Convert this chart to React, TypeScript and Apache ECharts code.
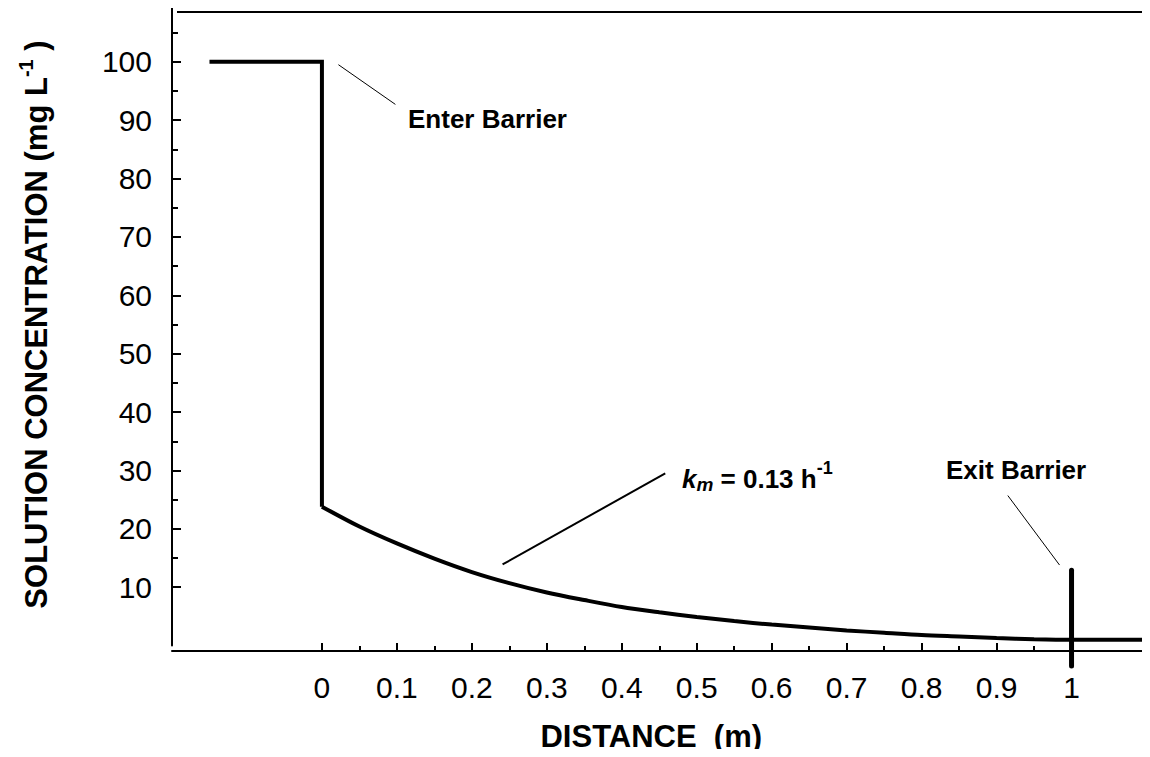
import { useEffect, useRef } from "react";
import * as echarts from "echarts";

const FONT = '"Liberation Sans", Arial, Helvetica, sans-serif';

// Solution concentration (mg/L) versus distance (m)
const plateauDistance = [-0.15, 0, 0];
const plateauConcentration = [100, 100, 23.8];

const curveDistance = [
  0, 0.05, 0.1, 0.15, 0.2, 0.25, 0.3, 0.35, 0.4, 0.45, 0.5, 0.55, 0.6, 0.65, 0.7,
  0.75, 0.8, 0.85, 0.9, 0.95, 1.0, 1.1,
];
const curveConcentration = [
  23.8, 20.4, 17.5, 14.9, 12.6, 10.7, 9.1, 7.8, 6.6, 5.7, 4.9, 4.2, 3.6, 3.1, 2.6,
  2.2, 1.8, 1.55, 1.3, 1.1, 1.0, 1.0,
];

const exitBarrierDistance = [1, 1];
const exitBarrierConcentration = [12.9, -3.5];

// Annotation leader lines (data units)
const enterLeaderDistance = [0.022, 0.098];
const enterLeaderConcentration = [99.5, 92.7];
const kmLeaderDistance = [0.241, 0.458];
const kmLeaderConcentration = [13.9, 29.5];
const exitLeaderDistance = [0.915, 0.984];
const exitLeaderConcentration = [25.7, 13.8];

// Axis ticks
const xMajorTicks = [0, 0.1, 0.2, 0.3, 0.4, 0.5, 0.6, 0.7, 0.8, 0.9, 1];
const xMinorTicks = [0.05, 0.15, 0.25, 0.35, 0.45, 0.55, 0.65, 0.75, 0.85, 0.95];
const yMajorTicks = [10, 20, 30, 40, 50, 60, 70, 80, 90, 100];
const yMinorTicks = [15, 25, 35, 45, 55, 65, 75, 85, 95, 105];

const zip = (xs: number[], ys: number[]) => xs.map((x, i) => [x, ys[i]]);

export default function App() {
  const ref = useRef<HTMLDivElement>(null);

  useEffect(() => {
    if (!ref.current) return;
    const chart = echarts.init(ref.current, undefined, { renderer: "svg" });

    const axisLineStyle = { color: "#000", width: 2 };
    const xBase = {
      type: "value" as const,
      min: -0.2,
      max: 1.1,
      position: "bottom" as const,
      offset: 5.4,
      splitLine: { show: false },
    };
    const yBase = {
      type: "value" as const,
      min: 0,
      max: 110,
      position: "left" as const,
      splitLine: { show: false },
    };

    const thin = (width: number) => ({
      type: "line" as const,
      showSymbol: false,
      symbol: "none",
      silent: true,
      clip: false,
      lineStyle: { color: "#000", width },
    });

    chart.setOption({
      animation: false,
      backgroundColor: "#fff",
      grid: { left: 172, right: 3.5, top: 3.4, bottom: 109.4 },
      xAxis: [
        {
          ...xBase,
          name: "DISTANCE  (m)",
          nameLocation: "middle",
          nameGap: 70,
          nameTextStyle: {
            fontFamily: FONT,
            fontSize: 31,
            fontWeight: "bold",
            color: "#000",
            padding: [0, 16, 0, 0],
          },
          axisLine: { show: true, onZero: false, lineStyle: axisLineStyle },
          axisTick: {
            show: true,
            inside: true,
            length: 8,
            customValues: xMajorTicks,
            lineStyle: axisLineStyle,
          },
          axisLabel: {
            show: true,
            customValues: xMajorTicks,
            margin: 21,
            fontFamily: FONT,
            fontSize: 30,
            color: "#000",
          },
        },
        {
          ...xBase,
          axisLine: { show: false, onZero: false },
          axisTick: {
            show: true,
            inside: true,
            length: 5,
            customValues: xMinorTicks,
            lineStyle: axisLineStyle,
          },
          axisLabel: { show: false },
        },
      ],
      yAxis: [
        {
          ...yBase,
          name: "SOLUTION CONCENTRATION (mg L{sup|-1} )",
          nameLocation: "middle",
          nameGap: 116,
          nameTextStyle: {
            fontFamily: FONT,
            fontSize: 31,
            fontWeight: "bold",
            color: "#000",
            lineHeight: 40,
            rich: {
              sup: {
                fontFamily: FONT,
                fontSize: 20,
                fontWeight: "bold",
                color: "#000",
                lineHeight: 20,
                verticalAlign: "top",
              },
            },
          },
          axisLine: { show: true, onZero: false, lineStyle: axisLineStyle },
          axisTick: {
            show: true,
            inside: true,
            length: 9,
            customValues: yMajorTicks,
            lineStyle: axisLineStyle,
          },
          axisLabel: {
            show: true,
            customValues: yMajorTicks,
            margin: 20,
            fontFamily: FONT,
            fontSize: 30,
            color: "#000",
          },
        },
        {
          ...yBase,
          axisLine: { show: false, onZero: false },
          axisTick: {
            show: true,
            inside: true,
            length: 6,
            customValues: yMinorTicks,
            lineStyle: axisLineStyle,
          },
          axisLabel: { show: false },
        },
      ],
      series: [
        {
          ...thin(4),
          name: "plateau",
          data: zip(plateauDistance, plateauConcentration),
          lineStyle: { color: "#000", width: 4, join: "miter", cap: "butt" },
        },
        {
          ...thin(4),
          name: "concentration",
          smooth: 0.3,
          data: zip(curveDistance, curveConcentration),
        },
        {
          ...thin(5),
          name: "exit barrier",
          data: zip(exitBarrierDistance, exitBarrierConcentration),
          lineStyle: { color: "#000", width: 5, cap: "round" },
        },
        { ...thin(1), name: "enter leader", data: zip(enterLeaderDistance, enterLeaderConcentration) },
        { ...thin(2), name: "km leader", data: zip(kmLeaderDistance, kmLeaderConcentration) },
        { ...thin(1), name: "exit leader", data: zip(exitLeaderDistance, exitLeaderConcentration) },
      ],
      graphic: [
        {
          type: "polyline",
          silent: true,
          shape: { points: [[177, 12], [1148, 12], [1148, 657]] },
          style: { stroke: "#000", lineWidth: 2, fill: "none" },
        },
        {
          type: "text",
          x: 408,
          y: 118.5,
          style: {
            text: "Enter Barrier",
            fontFamily: FONT,
            fontSize: 26,
            fontWeight: "bold",
            fill: "#000",
            align: "left",
            verticalAlign: "middle",
            textAlign: "left",
            textVerticalAlign: "middle",
          },
        },
        {
          type: "text",
          x: 946,
          y: 469.5,
          style: {
            text: "Exit Barrier",
            fontFamily: FONT,
            fontSize: 26,
            fontWeight: "bold",
            fill: "#000",
            align: "left",
            verticalAlign: "middle",
            textAlign: "left",
            textVerticalAlign: "middle",
          },
        },
        {
          type: "text",
          x: 682,
          y: 478.5,
          style: {
            text: "{k|k}{sub|m}{n| = 0.13 h}{sup|-1}",
            fontFamily: FONT,
            fontSize: 26,
            fontWeight: "bold",
            fill: "#000",
            align: "left",
            verticalAlign: "middle",
            textAlign: "left",
            textVerticalAlign: "middle",
            rich: {
              k: {
                fontFamily: FONT,
                fontSize: 26,
                fontWeight: "bold",
                fontStyle: "italic",
                lineHeight: 40,
                fill: "#000",
              },
              sub: {
                fontFamily: FONT,
                fontSize: 19,
                fontWeight: "bold",
                fontStyle: "italic",
                lineHeight: 19,
                verticalAlign: "bottom",
                padding: [0, 0, 5, 0],
                fill: "#000",
              },
              n: {
                fontFamily: FONT,
                fontSize: 26,
                fontWeight: "bold",
                lineHeight: 40,
                fill: "#000",
              },
              sup: {
                fontFamily: FONT,
                fontSize: 18,
                fontWeight: "bold",
                lineHeight: 18,
                verticalAlign: "top",
                fill: "#000",
              },
            },
          },
        },
      ],
    });

    return () => chart.dispose();
  }, []);

  return <div ref={ref} style={{ width: 1150, height: 757, margin: -8 }} />;
}
